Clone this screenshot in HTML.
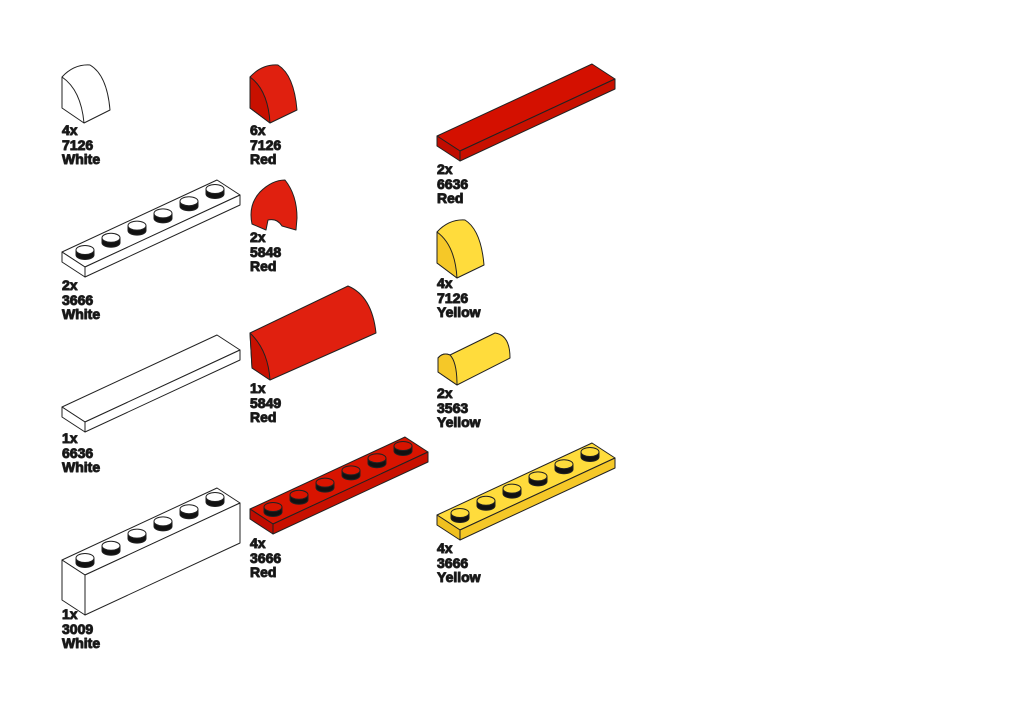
<!DOCTYPE html>
<html><head><meta charset="utf-8"><style>
html,body{margin:0;padding:0;background:#fff;width:1024px;height:724px;overflow:hidden}
svg text{font-family:"Liberation Sans",sans-serif;font-weight:bold;font-size:14px;fill:#111}
</style></head><body>
<svg id="s" width="1024" height="724" viewBox="0 0 1024 724" xmlns="http://www.w3.org/2000/svg" stroke="#222" stroke-width="1" stroke-linejoin="round">
<!-- 7126 white -->
<path d="M62,77 Q74,64 90,65 Q107,75 110,110 L84,123 L62,108 Z" fill="#fff"/>
<path d="M62,77 Q81,90 84,123" fill="none"/>
<!-- 7126 red -->
<path d="M250,77 Q262,64 278,65 Q294,75 297,110 L270,123 L250,108 Z" fill="#e0200f"/>
<path d="M250,77 L250,108 L270,123 Q268,90 250,77Z" fill="#c81000"/>
<!-- 7126 yellow -->
<path d="M437,232 Q449,219 465,220 Q481,230 484,265 L457,278 L437,263 Z" fill="#ffdc3c"/>
<path d="M437,232 L437,263 L457,278 Q455,245 437,232Z" fill="#f5c828"/>
<!-- 5848 red -->
<path d="M260,192 Q272,180 285,180 Q297,195 297,218 L296,230 L282,226 Q277,218 268,220 L266,230 L252,224 Q248,205 260,192Z" fill="#e0200f"/>
<!-- 5849 red -->
<path d="M250,333 L348,286 Q372,296 376,333 L270,380 L252,368 Z" fill="#e0200f"/>
<path d="M250,333 Q268,350 270,380 L252,368 Z" fill="#c81000"/>
<!-- 3563 yellow -->
<path d="M438,358 Q443,352 450,355 L495,333 Q510,335 510,358 L457,385 L438,372 Z" fill="#ffdc3c"/>
<path d="M438,358 L438,372 L457,385 Q457,362 450,355 Q443,352 438,358Z" fill="#f5c828"/>
<g id="g"></g>
<text x="62" y="135">4x</text><text x="62" y="150">7126</text><text x="62" y="164">White</text>
<text x="250" y="135">6x</text><text x="250" y="150">7126</text><text x="250" y="164">Red</text>
<text x="437" y="174">2x</text><text x="437" y="189">6636</text><text x="437" y="203">Red</text>
<text x="62" y="290">2x</text><text x="62" y="305">3666</text><text x="62" y="319">White</text>
<text x="250" y="242">2x</text><text x="250" y="257">5848</text><text x="250" y="271">Red</text>
<text x="437" y="288">4x</text><text x="437" y="303">7126</text><text x="437" y="317">Yellow</text>
<text x="62" y="443">1x</text><text x="62" y="458">6636</text><text x="62" y="472">White</text>
<text x="250" y="393">1x</text><text x="250" y="408">5849</text><text x="250" y="422">Red</text>
<text x="437" y="398">2x</text><text x="437" y="413">3563</text><text x="437" y="427">Yellow</text>
<text x="62" y="619">1x</text><text x="62" y="634">3009</text><text x="62" y="648">White</text>
<text x="250" y="548">4x</text><text x="250" y="563">3666</text><text x="250" y="577">Red</text>
<text x="437" y="553">4x</text><text x="437" y="568">3666</text><text x="437" y="582">Yellow</text>
</svg>
<script>
var g=document.getElementById('g'),h='';
function P(pts,f){return '<polygon points="'+pts.map(function(p){return p.join(',')}).join(' ')+'" fill="'+f+'"/>';}
function plate(ox,oy,th,studs,top,side,front){
 var A=[62+ox,252+oy],B=[217+ox,180+oy],C=[240+ox,195+oy],D=[85+ox,267+oy];
 h+=P([A,B,C,D],top);
 h+=P([D,C,[C[0],C[1]+th],[D[0],D[1]+th]],front);
 h+=P([A,D,[D[0],D[1]+th],[A[0],A[1]+th]],side);
 if(studs){for(var i=0;i<6;i++){var cx=A[0]+23+i*26,cy=A[1]-2-i*12.2;
  h+='<path d="M'+(cx-9)+','+cy+' L'+(cx-9)+','+(cy+5)+' A9,4.5 0 0 0 '+(cx+9)+','+(cy+5)+' L'+(cx+9)+','+cy+'" fill="#111"/>';
  h+='<ellipse cx="'+cx+'" cy="'+cy+'" rx="9" ry="4.5" fill="'+top+'"/>';}}
}
plate(0,0,10,true,'#fff','#fff','#fff');
plate(0,155,10,false,'#fff','#fff','#fff');
plate(0,308,40,true,'#fff','#fff','#fff');
plate(375,-116,10,false,'#d41000','#c00c00','#c81000');
plate(188,257,10,true,'#d81400','#c00c00','#c81000');
plate(375,263,10,true,'#ffdc3c','#f0c020','#f5c828');
g.innerHTML=h;
</script>
</body></html>
